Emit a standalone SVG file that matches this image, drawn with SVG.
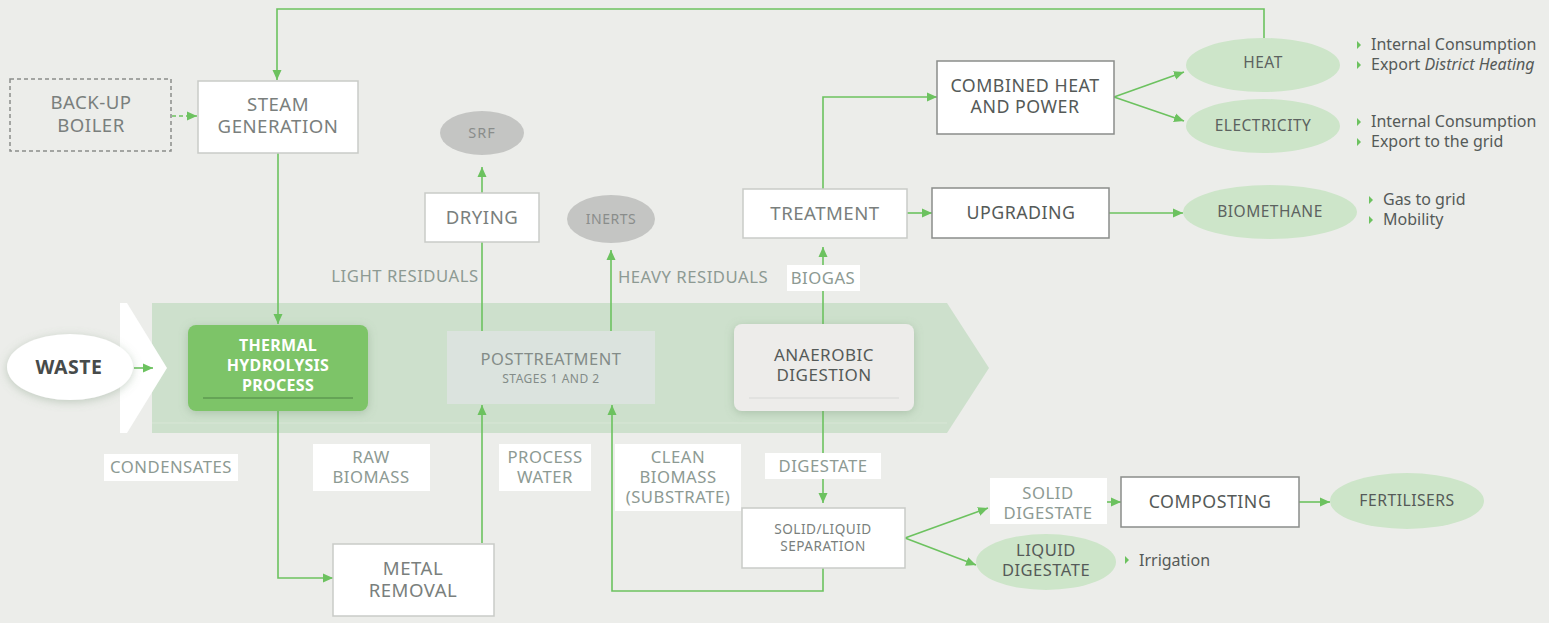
<svg xmlns="http://www.w3.org/2000/svg" width="1549" height="623" viewBox="0 0 1549 623">
<defs>
<marker id="ah" markerUnits="userSpaceOnUse" markerWidth="10" markerHeight="10" refX="10" refY="5" orient="auto">
<path d="M0,0.5 L10,5 L0,9.5 z" fill="#6cc25f"/>
</marker>
<filter id="sh" x="-20%" y="-30%" width="140%" height="160%">
<feDropShadow dx="0" dy="2" stdDeviation="5" flood-color="#6a8a6a" flood-opacity="0.35"/>
</filter>
<style>
text{font-family:"Noto Sans","Liberation Sans",sans-serif;text-anchor:middle;letter-spacing:0.5px;}
.box{fill:#ffffff;stroke:#c9cbc8;stroke-width:1.5;}
.dbox{fill:#ffffff;stroke:#8a8d8b;stroke-width:1.5;}
.t{font-size:18.6px;fill:#7a7f7d;}
.td{font-size:17.8px;fill:#555a58;}
.lbl{font-size:16.7px;fill:#8d9a93;}
.lbg{fill:#ffffff;}
.ell{fill:#cde5c9;}
.et{font-size:15.5px;fill:#5c6260;}
.bul{font-size:16px;fill:#555a58;text-anchor:start;letter-spacing:0;}
.tri{fill:#6cc25f;}
.ln{fill:none;stroke:#6cc25f;stroke-width:1.6;}
.arr{marker-end:url(#ah);}
</style>
</defs>
<rect x="0" y="0" width="1549" height="623" fill="#ecedea"/>

<!-- band -->
<g id="band">
<polygon points="152,303 947,303 989,368 947,433 152,433" fill="#cde0cc"/>
<line x1="152" y1="423" x2="947" y2="423" stroke="#d8e6d6" stroke-width="1"/>
<polygon points="120,303 127,303 167,368 127,433 120,433" fill="#ffffff"/>
</g>

<!-- connectors -->
<g id="connectors">
<path class="ln arr" d="M1264,38 V9 H277 V80"/>
<path class="ln arr" d="M172,116 H197" stroke-dasharray="4,3"/>
<path class="ln arr" d="M278,153 V324"/>
<path class="ln arr" d="M134,368 H153"/>
<path class="ln arr" d="M278,411 V578 H333"/>
<path class="ln arr" d="M482,543 V405"/>
<path class="ln" d="M482,331 V242"/>
<path class="ln arr" d="M482,193 V167"/>
<path class="ln arr" d="M611,331 V250"/>
<path class="ln arr" d="M823,324 V247"/>
<path class="ln arr" d="M823,189 V97 H937"/>
<path class="ln arr" d="M907,213 H932"/>
<path class="ln arr" d="M1109,213 H1183"/>
<path class="ln arr" d="M1114,97 L1184,72"/>
<path class="ln arr" d="M1114,97 L1184,121"/>
<path class="ln arr" d="M823,411 V503"/>
<path class="ln arr" d="M823,568 V591 H612 V405"/>
<path class="ln arr" d="M905,538 L988,508"/>
<path class="ln arr" d="M905,538 L976,565"/>
<path class="ln arr" d="M1107,502 H1121"/>
<path class="ln arr" d="M1299,502 H1330"/>
</g>

<!-- nodes -->
<g id="waste">
<ellipse cx="70" cy="367" rx="63" ry="33" fill="#ffffff" filter="url(#sh)"/>
<text x="69" y="374" style="font-size:19.5px;font-weight:bold;fill:#474b4a">WASTE</text>
</g>

<g id="backup-boiler">
<rect x="10" y="79" width="161" height="72" fill="none" stroke="#8a8d8b" stroke-width="1.5" stroke-dasharray="4,3"/>
<text class="t" x="91" y="109">BACK-UP</text>
<text class="t" x="91" y="132">BOILER</text>
</g>

<g id="steam-generation">
<rect class="box" x="198" y="81" width="160" height="72"/>
<text class="t" x="278" y="111">STEAM</text>
<text class="t" x="278" y="133">GENERATION</text>
</g>

<g id="thermal-hydrolysis">
<rect x="188" y="325" width="180" height="86" rx="8" fill="#7dc468" filter="url(#sh)"/>
<text x="278" y="351" style="font-size:16px;font-weight:bold;fill:#ffffff;letter-spacing:0.3px">THERMAL</text>
<text x="278" y="371" style="font-size:16px;font-weight:bold;fill:#ffffff;letter-spacing:0.3px">HYDROLYSIS</text>
<text x="278" y="391" style="font-size:16px;font-weight:bold;fill:#ffffff;letter-spacing:0.3px">PROCESS</text>
<line x1="203" y1="398" x2="353" y2="398" stroke="#5e9a50" stroke-width="1.5"/>
</g>

<g id="posttreatment">
<rect x="447" y="331" width="208" height="73" fill="#dbe3de"/>
<text x="551" y="365" style="font-size:16.5px;fill:#838c88">POSTTREATMENT</text>
<text x="551" y="383" style="font-size:12px;fill:#838c88">STAGES 1 AND 2</text>
</g>

<g id="anaerobic-digestion">
<rect x="734" y="324" width="180" height="87" rx="8" fill="#edecea" filter="url(#sh)"/>
<text x="824" y="361" style="font-size:17px;fill:#555a58">ANAEROBIC</text>
<text x="824" y="381" style="font-size:17px;fill:#555a58">DIGESTION</text>
<line x1="749" y1="398" x2="899" y2="398" stroke="#d8d8d6" stroke-width="1.2"/>
</g>

<g id="metal-removal">
<rect class="box" x="333" y="544" width="161" height="72"/>
<text class="t" x="413" y="575">METAL</text>
<text class="t" x="413" y="597">REMOVAL</text>
</g>

<g id="drying">
<rect class="box" x="425" y="193" width="114" height="49"/>
<text class="t" x="482" y="224">DRYING</text>
</g>

<g id="srf">
<ellipse cx="482" cy="133" rx="42" ry="22" fill="#c4c5c3"/>
<text x="482" y="138" style="font-size:14.5px;fill:#8a8d8b;letter-spacing:1px">SRF</text>
</g>

<g id="inerts">
<ellipse cx="611" cy="219" rx="44" ry="24" fill="#c4c5c3"/>
<text x="611" y="224" style="font-size:14px;fill:#8a8d8b">INERTS</text>
</g>

<g id="treatment">
<rect class="box" x="743" y="189" width="164" height="49"/>
<text class="t" x="825" y="220">TREATMENT</text>
</g>

<g id="chp">
<rect class="dbox" x="937" y="61" width="177" height="73"/>
<text class="td" x="1025" y="92">COMBINED HEAT</text>
<text class="td" x="1025" y="113">AND POWER</text>
</g>

<g id="upgrading">
<rect class="dbox" x="932" y="188" width="177" height="50"/>
<text class="td" x="1021" y="219">UPGRADING</text>
</g>

<g id="heat">
<ellipse class="ell" cx="1263" cy="65" rx="77" ry="27"/>
<text class="et" x="1263" y="68">HEAT</text>
</g>

<g id="electricity">
<ellipse class="ell" cx="1263" cy="126" rx="77" ry="27"/>
<text class="et" x="1263" y="131">ELECTRICITY</text>
</g>

<g id="biomethane">
<ellipse class="ell" cx="1270" cy="212" rx="87" ry="27"/>
<text class="et" x="1270" y="217">BIOMETHANE</text>
</g>

<g id="heat-uses">
<polygon class="tri" points="1357,41 1361,45 1357,49"/>
<text class="bul" x="1371" y="50">Internal Consumption</text>
<polygon class="tri" points="1357,61 1361,65 1357,69"/>
<text class="bul" x="1371" y="70">Export <tspan font-style="italic">District Heating</tspan></text>
</g>

<g id="electricity-uses">
<polygon class="tri" points="1357,118 1361,122 1357,126"/>
<text class="bul" x="1371" y="127">Internal Consumption</text>
<polygon class="tri" points="1357,138 1361,142 1357,146"/>
<text class="bul" x="1371" y="147">Export to the grid</text>
</g>

<g id="biomethane-uses">
<polygon class="tri" points="1369,196 1373,200 1369,204"/>
<text class="bul" x="1383" y="205">Gas to grid</text>
<polygon class="tri" points="1369,216 1373,220 1369,224"/>
<text class="bul" x="1383" y="225">Mobility</text>
</g>

<g id="separation">
<rect class="box" x="742" y="508" width="163" height="60"/>
<text x="823" y="534" style="font-size:13.6px;fill:#7a7f7d">SOLID/LIQUID</text>
<text x="823" y="551" style="font-size:13.6px;fill:#7a7f7d">SEPARATION</text>
</g>

<g id="liquid-digestate">
<ellipse class="ell" cx="1046" cy="562" rx="70" ry="28"/>
<text x="1046" y="556" style="font-size:16.5px;fill:#555a58">LIQUID</text>
<text x="1046" y="576" style="font-size:16.5px;fill:#555a58">DIGESTATE</text>
</g>

<g id="irrigation">
<polygon class="tri" points="1125,556 1129,560 1125,564"/>
<text class="bul" x="1139" y="566">Irrigation</text>
</g>

<g id="composting">
<rect class="dbox" x="1121" y="477" width="178" height="50"/>
<text class="td" x="1210" y="508">COMPOSTING</text>
</g>

<g id="fertilisers">
<ellipse class="ell" cx="1407" cy="501" rx="77" ry="28"/>
<text x="1407" y="506" style="font-size:15.7px;fill:#555a58">FERTILISERS</text>
</g>

<!-- labels -->
<g id="labels">
<text class="lbl" x="405" y="282">LIGHT RESIDUALS</text>
<text class="lbl" x="693" y="283">HEAVY RESIDUALS</text>
<rect class="lbg" x="787" y="265" width="73" height="26"/>
<text class="lbl" x="823" y="284">BIOGAS</text>
<rect class="lbg" x="104" y="454" width="134" height="27"/>
<text class="lbl" x="171" y="473">CONDENSATES</text>
<rect class="lbg" x="313" y="444" width="117" height="47"/>
<text class="lbl" x="371" y="463">RAW</text>
<text class="lbl" x="371" y="483">BIOMASS</text>
<rect class="lbg" x="499" y="444" width="92" height="47"/>
<text class="lbl" x="545" y="463">PROCESS</text>
<text class="lbl" x="545" y="483">WATER</text>
<rect class="lbg" x="615" y="444" width="126" height="67"/>
<text class="lbl" x="678" y="463">CLEAN</text>
<text class="lbl" x="678" y="483">BIOMASS</text>
<text class="lbl" x="678" y="503">(SUBSTRATE)</text>
<rect class="lbg" x="765" y="453" width="116" height="26"/>
<text class="lbl" x="823" y="472">DIGESTATE</text>
<rect class="lbg" x="990" y="478" width="117" height="46"/>
<text class="lbl" x="1048" y="499">SOLID</text>
<text class="lbl" x="1048" y="519">DIGESTATE</text>
</g>
</svg>
